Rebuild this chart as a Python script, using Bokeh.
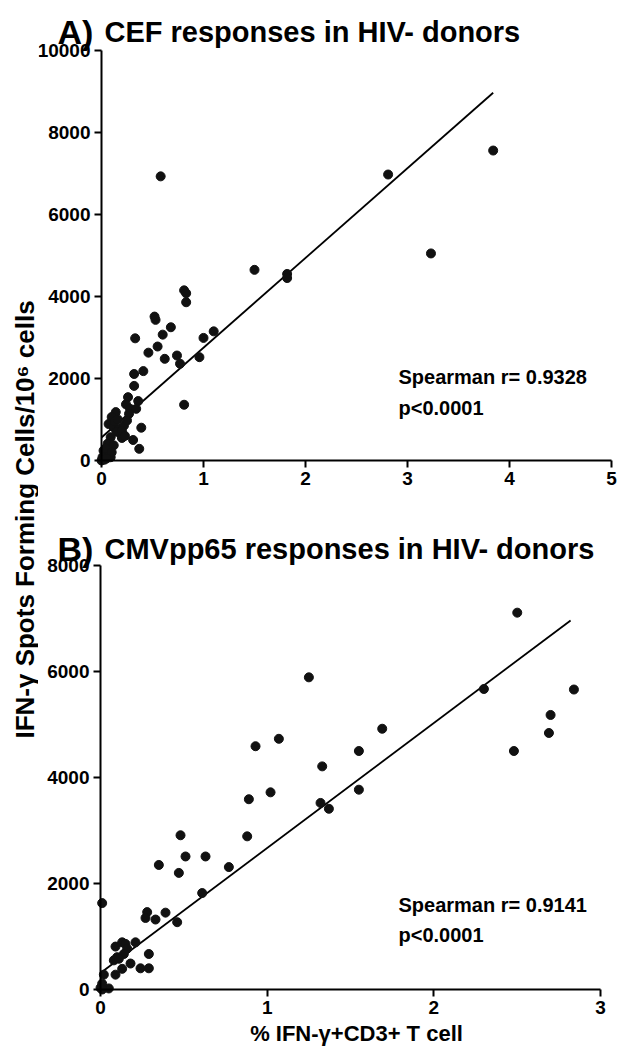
import math
from bokeh.plotting import figure
from bokeh.models import Range1d, LinearAxis, FixedTicker, Label
from bokeh.layouts import row, column
from bokeh.embed import file_html
from bokeh.resources import INLINE

FONT = "Liberation Sans"

# ---------------- Panel A: CEF responses ----------------
a_x = [1.50, 1.82, 1.82, 2.81, 3.23, 3.84, 0.58,
       0.81, 0.83, 0.83, 0.52, 0.53, 0.68, 0.60, 0.33, 1.10, 1.00, 0.55, 0.46,
       0.62, 0.74, 0.77, 0.96, 0.41, 0.32, 0.32, 0.81, 0.26, 0.36, 0.24, 0.28,
       0.34, 0.27, 0.14, 0.10, 0.39, 0.31, 0.37,
       0.07, 0.12, 0.17, 0.22, 0.25, 0.19, 0.09, 0.06, 0.12, 0.02, 0.06, 0.01,
       0.09, 0.00, 0.15, 0.20, 0.04, 0.10, 0.03, 0.05, 0.13, 0.16, 0.20, 0.23]
a_y = [4650, 4550, 4450, 6975, 5050, 7560, 6930,
       4150, 4080, 3860, 3510, 3430, 3250, 3070, 2980, 3150, 2990, 2780, 2630,
       2480, 2560, 2360, 2520, 2180, 2110, 1820, 1360, 1545, 1450, 1370, 1260,
       1260, 1140, 1180, 1060, 800, 500, 285,
       890, 810, 770, 850, 975, 650, 570, 410, 370, 240, 160, 80,
       80, 0, 700, 550, 300, 200, 20, 50, 950, 1000, 720, 600]
a_fit_x = [0.0, 3.84]
a_fit_y = [560, 8970]
a_xticks = [0, 1, 2, 3, 4, 5]
a_yticks = [0, 2000, 4000, 6000, 8000, 10000]
a_title_tag = "A)"
a_title = "CEF responses in HIV- donors"
a_stat = ["Spearman r= 0.9328", "p<0.0001"]

# ---------------- Panel B: CMVpp65 responses ----------------
b_x = [2.50, 1.25, 2.30, 2.84, 2.70, 2.69, 2.48, 1.69, 0.93, 1.07, 1.55, 1.33,
       1.02, 0.89, 1.55, 1.32, 1.37,
       0.48, 0.88, 0.35, 0.51, 0.63, 0.47, 0.77, 0.61, 0.01, 0.28, 0.27, 0.33,
       0.39, 0.46, 0.09, 0.13, 0.15, 0.21, 0.16, 0.10, 0.14, 0.18, 0.13, 0.09,
       0.24, 0.29, 0.29, 0.02, 0.01, 0.00, 0.05, 0.01, 0.08, 0.11]
b_y = [7110, 5890, 5670, 5660, 5180, 4840, 4500, 4920, 4590, 4730, 4500, 4210,
       3720, 3590, 3770, 3520, 3410,
       2910, 2890, 2350, 2510, 2510, 2200, 2310, 1820, 1630, 1460, 1350, 1320,
       1450, 1270, 810, 890, 860, 890, 770, 610, 670, 490, 390, 280,
       400, 400, 670, 280, 110, 30, 20, 0, 550, 580]
b_fit_x = [0.0, 2.82]
b_fit_y = [311, 6963]
b_xticks = [0, 1, 2, 3]
b_yticks = [0, 2000, 4000, 6000, 8000]
b_title_tag = "B)"
b_title = "CMVpp65 responses in HIV- donors"
b_stat = ["Spearman r= 0.9141", "p<0.0001"]

y_label = "IFN-\u03b3 Spots Forming Cells/10\u2076 cells"
x_label = "% IFN-\u03b3+CD3+ T cell"

# ---------------- layout constants (canvas pixels) ----------------
LBL_W = 38
COL_X = LBL_W               # x where the chart column starts
COL_W = 580
H1, H2 = 508, 542
TOP1 = 0
TOP2 = TOP1 + H1


def styled_axis(axis, ticks):
    axis.ticker = FixedTicker(ticks=ticks)
    axis.fixed_location = 0
    axis.bounds = (ticks[0], ticks[-1])
    axis.axis_line_color = "black"
    axis.axis_line_width = 2
    axis.major_tick_line_color = "black"
    axis.major_tick_line_width = 2
    axis.major_tick_out = 7
    axis.major_tick_in = 0
    axis.minor_tick_line_color = None
    axis.major_label_text_font = FONT
    axis.major_label_text_font_style = "bold"
    axis.major_label_text_font_size = "19px"
    axis.major_label_text_color = "black"
    axis.major_label_standoff = 4
    return axis


def panel(xs, ys, fx, fy, xticks, yticks, x0_page, px_per_x, y0_page, px_per_y,
          top, height, tag, title, title_base, stat, stat_base):
    x_lo = (COL_X - x0_page) / px_per_x
    x_hi = x_lo + COL_W / px_per_x
    y_hi = (y0_page - top) / px_per_y
    y_lo = (y0_page - (top + height)) / px_per_y
    p = figure(width=COL_W, height=height,
               x_range=Range1d(x_lo, x_hi), y_range=Range1d(y_lo, y_hi),
               toolbar_location=None, output_backend="svg",
               x_axis_location=None, y_axis_location=None,
               min_border=0, min_border_left=0, min_border_right=0,
               min_border_top=0, min_border_bottom=0)
    p.title.visible = False
    p.outline_line_color = None
    p.xgrid.grid_line_color = None
    p.ygrid.grid_line_color = None
    p.background_fill_color = "white"
    p.border_fill_color = "white"

    p.add_layout(styled_axis(LinearAxis(), xticks), "below")
    p.add_layout(styled_axis(LinearAxis(), yticks), "left")

    p.line(fx, fy, line_color="black", line_width=1.8)
    p.scatter(xs, ys, size=9, fill_color="#111111", line_color="#111111")

    def sx(page_x):
        return page_x - COL_X

    def sy(page_y):
        return (top + height) - page_y

    p.add_layout(Label(x=sx(57), y=sy(title_base), x_units="screen", y_units="screen",
                       text=tag, text_font=FONT, text_font_style="bold",
                       text_font_size="34px", text_color="black",
                       text_baseline="alphabetic", text_align="left"))
    p.add_layout(Label(x=sx(104), y=sy(title_base), x_units="screen", y_units="screen",
                       text=title, text_font=FONT, text_font_style="bold",
                       text_font_size="29px", text_color="black",
                       text_baseline="alphabetic", text_align="left"))
    for i, s in enumerate(stat):
        p.add_layout(Label(x=sx(398), y=sy(stat_base[i]), x_units="screen", y_units="screen",
                           text=s, text_font=FONT, text_font_style="bold",
                           text_font_size="20px", text_color="black",
                           text_baseline="alphabetic", text_align="left"))
    return p, sx, sy


p1, sx1, sy1 = panel(a_x, a_y, a_fit_x, a_fit_y, a_xticks, a_yticks,
                     101, 102.0, 460, 0.041, TOP1, H1,
                     a_title_tag, a_title, 31, a_stat, [376, 407])

p2, sx2, sy2 = panel(b_x, b_y, b_fit_x, b_fit_y, b_xticks, b_yticks,
                     100, 166.7, 989, 0.053, TOP2, H2,
                     b_title_tag, b_title, 548, b_stat, [904, 934])

p2.add_layout(Label(x=sx2(356), y=sy2(1033), x_units="screen", y_units="screen",
                    text=x_label, text_font=FONT, text_font_style="bold",
                    text_font_size="22px", text_color="black",
                    text_baseline="alphabetic", text_align="center"))

# left strip with the shared y-axis title
pl = figure(width=LBL_W, height=H1 + H2, toolbar_location=None, output_backend="svg",
            x_axis_location=None, y_axis_location=None,
            x_range=Range1d(0, 1), y_range=Range1d(0, 1),
            min_border=0, min_border_left=0, min_border_right=0,
            min_border_top=0, min_border_bottom=0)
pl.title.visible = False
pl.outline_line_color = None
pl.xgrid.grid_line_color = None
pl.ygrid.grid_line_color = None
pl.add_layout(Label(x=24, y=(TOP1 + H1 + H2) - 519, x_units="screen", y_units="screen",
                    angle=math.pi / 2, text=y_label, text_font=FONT,
                    text_font_style="bold", text_font_size="26px", text_color="black",
                    text_align="center", text_baseline="middle"))

layout = row(pl, column(p1, p2, spacing=0), spacing=0)

open("out.html", "w").write(file_html(layout, INLINE))
